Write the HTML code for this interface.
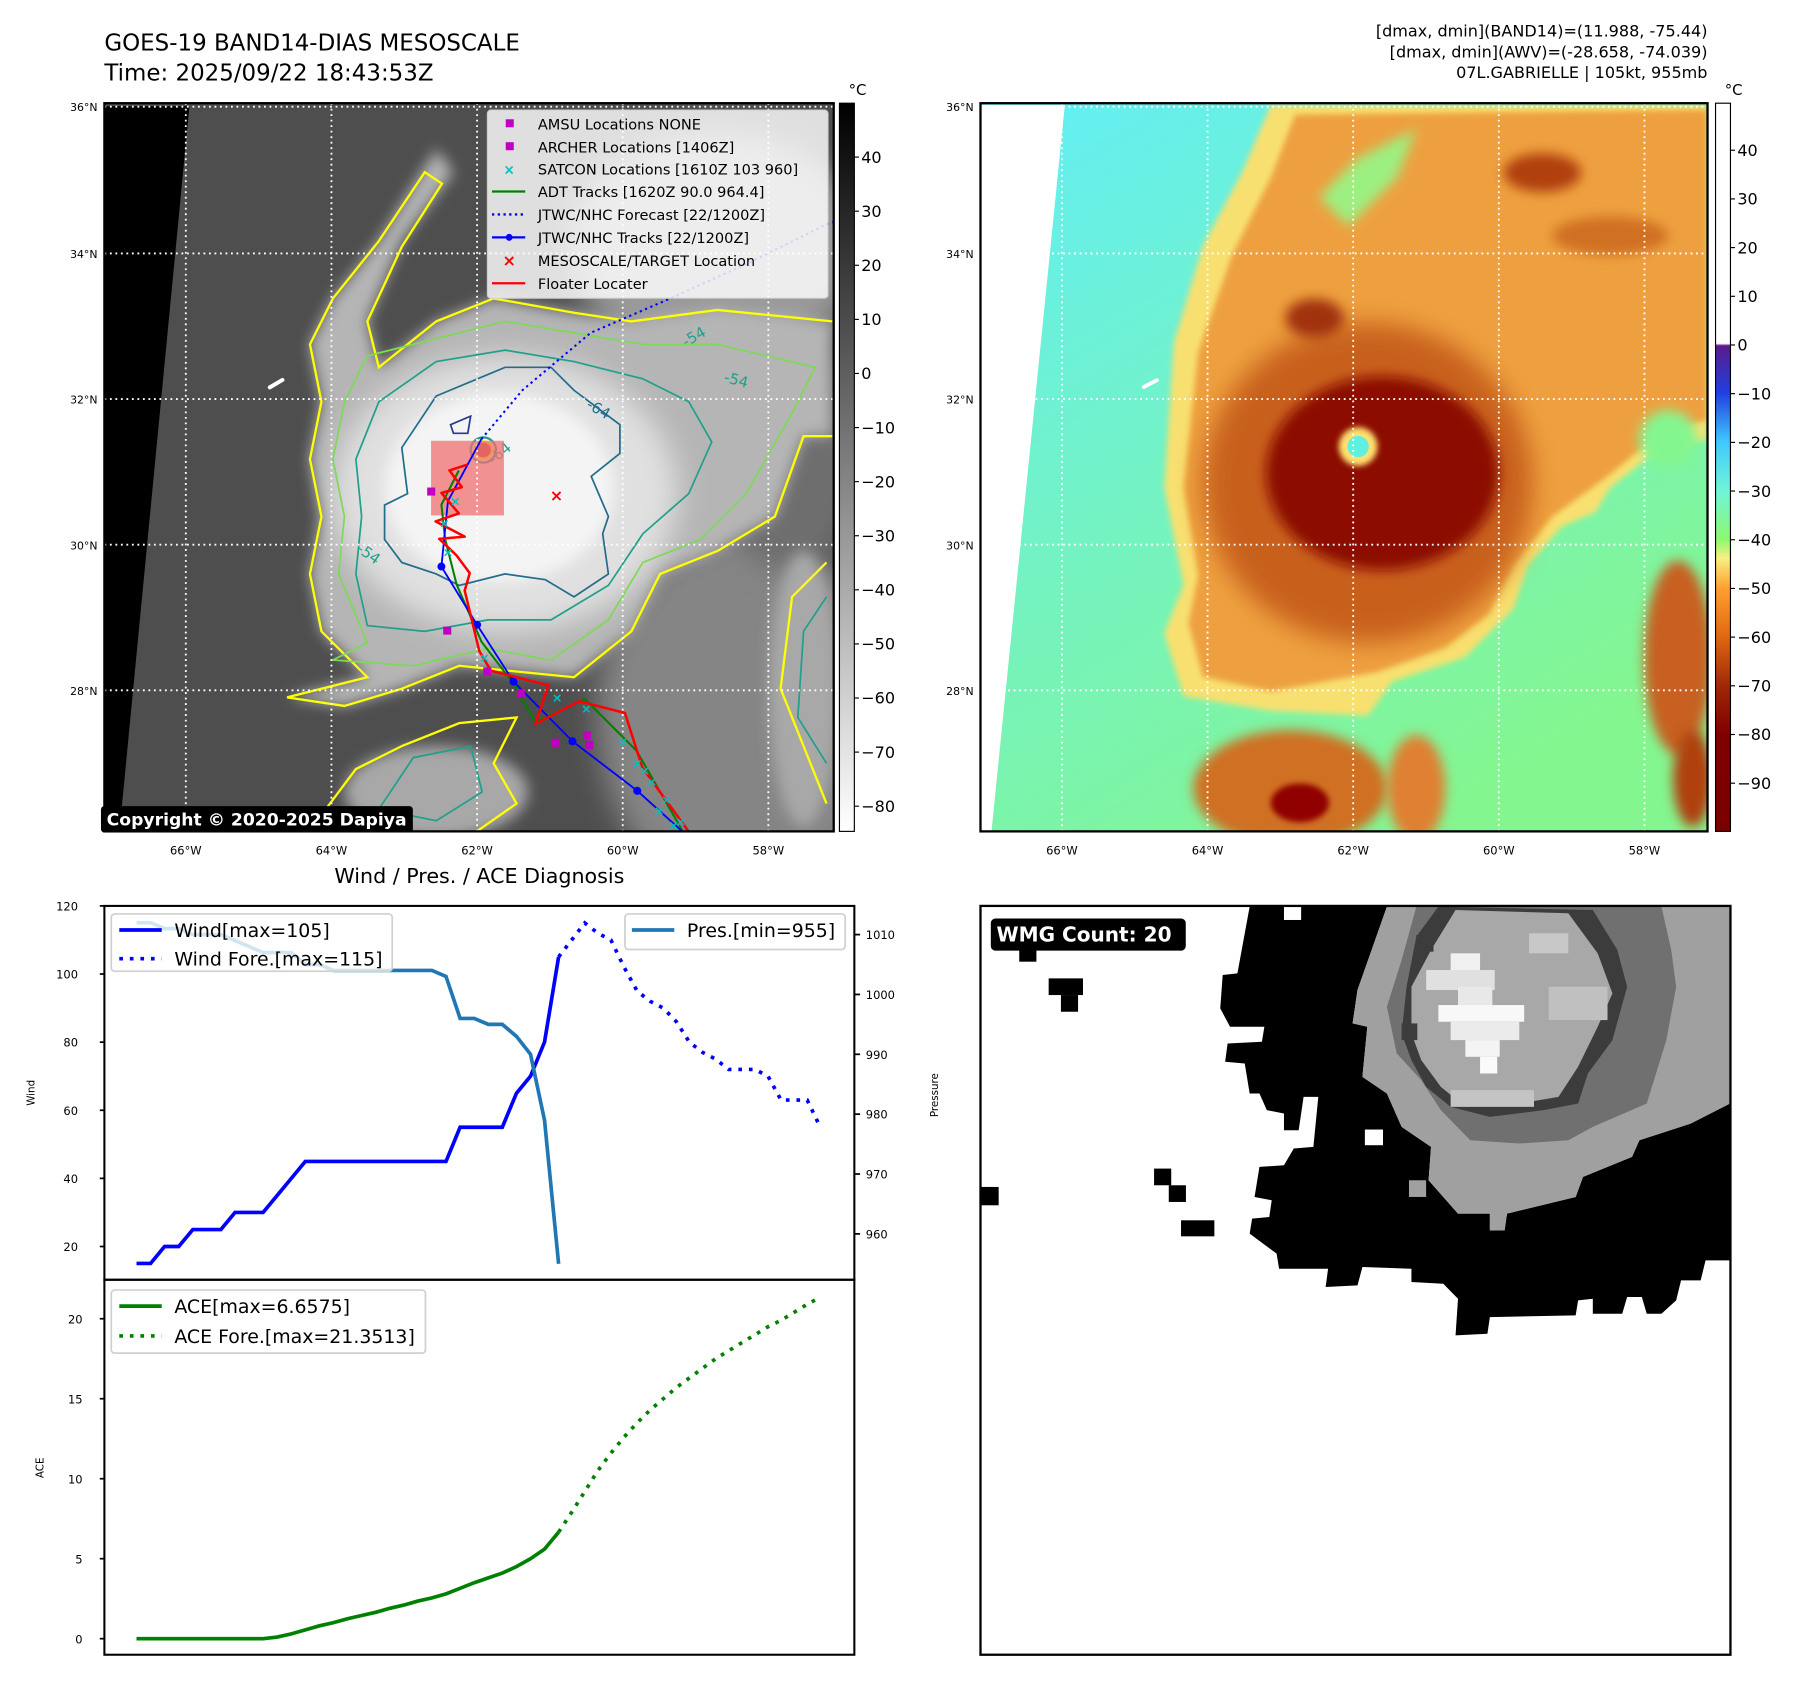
<!DOCTYPE html>
<html><head><meta charset="utf-8"><style>
html,body{margin:0;padding:0;background:#fff;}
svg{display:block;font-family:"DejaVu Sans","Liberation Sans",sans-serif;}
</style></head><body>
<svg id="root" width="1797" height="1692" viewBox="0 0 1567 1475.5">
<defs>
<filter id="b6" x="-20%" y="-20%" width="140%" height="140%"><feGaussianBlur stdDeviation="6"/></filter>
<filter id="b12" x="-30%" y="-30%" width="160%" height="160%"><feGaussianBlur stdDeviation="12"/></filter>
<filter id="b25" x="-40%" y="-40%" width="180%" height="180%"><feGaussianBlur stdDeviation="25"/></filter>
<clipPath id="c1"><rect x="91" y="90" width="636" height="635"/></clipPath>
<clipPath id="c2"><rect x="855" y="90" width="634" height="635"/></clipPath>
<clipPath id="c4"><rect x="855" y="790" width="654" height="653"/></clipPath>
<linearGradient id="gcb1" x1="0" y1="0" x2="0" y2="1"><stop offset="0" stop-color="#000"/><stop offset="1" stop-color="#fff"/></linearGradient>
<linearGradient id="gcb2" x1="0" y1="0" x2="0" y2="1">
<stop offset="0" stop-color="#fff"/><stop offset="0.33" stop-color="#fff"/><stop offset="0.333" stop-color="#5b1a8c"/>
<stop offset="0.398" stop-color="#2040e0"/><stop offset="0.465" stop-color="#40c8ff"/><stop offset="0.532" stop-color="#70f5d8"/>
<stop offset="0.599" stop-color="#8cf870"/><stop offset="0.625" stop-color="#f8f080"/><stop offset="0.666" stop-color="#ffa030"/>
<stop offset="0.733" stop-color="#e06810"/><stop offset="0.8" stop-color="#a02808"/><stop offset="0.866" stop-color="#800000"/><stop offset="1" stop-color="#7a0000"/></linearGradient>
<linearGradient id="gbg2" x1="0" y1="0" x2="0.6" y2="1"><stop offset="0" stop-color="#62eef6"/><stop offset="0.45" stop-color="#72f2c8"/><stop offset="1" stop-color="#84f690"/></linearGradient>
</defs>

<text x="91" y="44" font-size="20">GOES-19 BAND14-DIAS MESOSCALE</text>
<text x="91" y="70" font-size="20">Time: 2025/09/22 18:43:53Z</text>
<g font-size="14" text-anchor="end">
<text x="1489" y="32">[dmax, dmin](BAND14)=(11.988, -75.44)</text>
<text x="1489" y="50">[dmax, dmin](AWV)=(-28.658, -74.039)</text>
<text x="1489" y="68">07L.GABRIELLE | 105kt, 955mb</text>
</g>

<g clip-path="url(#c1)">
<rect x="91" y="90" width="636" height="635" fill="#4e4e4e"/>
<g transform="scale(0.5005)">
<ellipse cx="1300" cy="1250" rx="260" ry="320" fill="#858585" filter="url(#b25)"/>
<ellipse cx="1380" cy="800" rx="120" ry="200" fill="#6e6e6e" filter="url(#b25)"/>
<ellipse cx="1250" cy="430" rx="260" ry="200" fill="#9a9a9a" filter="url(#b25)"/>
<path d="M500,1215 L640,1180 L560,1100 L540,1000 L560,900 L540,800 L560,700 L540,600 L580,520 L660,420 L760,260 L790,300 L700,420 L640,560 L660,640 L760,560 L860,520 L1000,545 L1100,560 L1250,540 L1450,560 L1450,760 L1400,760 L1350,900 L1250,960 L1150,1000 L1100,1100 L1000,1180 L900,1170 L800,1160 L700,1200 L600,1230 Z" fill="#b5b5b5" filter="url(#b12)"/>
<ellipse cx="880" cy="860" rx="300" ry="240" fill="#e0e0e0" filter="url(#b25)"/>
<ellipse cx="870" cy="850" rx="200" ry="165" fill="#f4f4f4" filter="url(#b12)"/>
<ellipse cx="760" cy="1380" rx="160" ry="80" fill="#a8a8a8" filter="url(#b12)"/>
<ellipse cx="1400" cy="1200" rx="60" ry="240" fill="#a8a8a8" filter="url(#b12)"/>
<path d="M180,185 L330,185 L205,1480 L180,1480 Z" fill="#000"/>
<path d="M470,675 L492,662" stroke="#fff" stroke-width="7" stroke-linecap="round"/>
<path d="M500,1215 L640,1180 L560,1100 L540,1000 L560,900 L540,800 L560,700 L540,600 L580,520 L660,420 L740,300 L770,320 L700,430 L640,560 L660,640 L760,560 L860,520 L1000,545 L1100,560 L1250,540 L1450,560" fill="none" stroke="#ffff00" stroke-width="4"/>
<path d="M1450,760 L1400,760 L1350,900 L1250,960 L1150,1000 L1100,1100 L1000,1180 L900,1170 L800,1160 L700,1200 L600,1230 L500,1215" fill="none" stroke="#ffff00" stroke-width="4"/>
<path d="M580,1150 L640,1120 L590,1000 L600,900 L580,800 L600,700 L640,620 L760,590 L880,560 L1000,580 L1120,600 L1250,600 L1420,640 L1380,720 L1300,860 L1220,940 L1120,980 L1060,1080 L960,1150 L850,1130 L720,1160 Z" fill="none" stroke="#7ed957" stroke-width="3"/>
<path d="M640,1090 L620,1000 L630,900 L620,800 L660,700 L760,630 L880,610 L1000,630 L1120,660 L1200,700 L1240,770 L1200,860 L1120,930 L1060,1020 L960,1080 L850,1080 L740,1100 Z" fill="none" stroke="#20a08c" stroke-width="3"/>
<path d="M700,780 L760,690 L880,640 L960,640 L1000,680 L1080,740 L1080,790 L1030,830 L1060,900 L1050,930 L1060,1000 L1000,1040 L950,1010 L880,1000 L800,1020 L760,1000 L700,980 L670,940 L670,880 L710,860 Z" fill="none" stroke="#216d8a" stroke-width="3"/>
<path d="M700,1300 L800,1260 L900,1250 L860,1330 L900,1400 L800,1470 L650,1460 L560,1420 L620,1340 Z" fill="none" stroke="#ffff00" stroke-width="4"/>
<path d="M720,1320 L820,1300 L840,1380 L760,1430 L660,1410 Z" fill="none" stroke="#20a08c" stroke-width="3"/>
<path d="M1440,980 L1380,1040 L1360,1200 L1400,1300 L1440,1400" fill="none" stroke="#ffff00" stroke-width="4"/>
<path d="M1440,1040 L1400,1100 L1390,1250 L1440,1330" fill="none" stroke="#20a08c" stroke-width="3"/>
<path d="M785,740 L820,725 L815,755 L790,755 Z" fill="none" stroke="#2b3a8a" stroke-width="3"/>
<text x="1020" y="710" font-size="26" fill="#216d8a" transform="rotate(30 1020 710)">-64</text>
<text x="1195" y="605" font-size="26" fill="#20a08c" transform="rotate(-30 1195 605)">-54</text>
<text x="1260" y="665" font-size="26" fill="#20a08c" transform="rotate(15 1260 665)">-54</text>
<text x="620" y="960" font-size="26" fill="#20a08c" transform="rotate(35 620 960)">-54</text>
<text x="860" y="810" font-size="26" fill="#20a08c" transform="rotate(-40 860 810)">-64</text>
<circle cx="842" cy="784" r="22" fill="none" stroke="#20a08c" stroke-width="4"/>
<circle cx="842" cy="784" r="15" fill="#c04040" stroke="#ffff00" stroke-width="4"/>
<rect x="751" y="768" width="127" height="130" fill="#f07070" opacity="0.75"/>
</g>
</g>
<g id="grid1"></g>
<g id="tracks" clip-path="url(#c1)"></g>
<g>
<rect x="425" y="96" width="297" height="164" rx="3" fill="#ffffff" fill-opacity="0.82" stroke="#d0d0d0"/>
<g font-size="12.7">
<rect x="441" y="104" width="7" height="7" fill="#c000c0"/><text x="469" y="113">AMSU Locations NONE</text>
<rect x="441" y="124" width="7" height="7" fill="#c000c0"/><text x="469" y="133">ARCHER Locations [1406Z]</text>
<text x="444" y="152" font-size="12" fill="#00c0c0" text-anchor="middle" font-weight="bold">×</text><text x="469" y="152">SATCON Locations [1610Z 103 960]</text>
<line x1="429" y1="167" x2="458" y2="167" stroke="#008000" stroke-width="2"/><text x="469" y="172">ADT Tracks [1620Z 90.0 964.4]</text>
<line x1="429" y1="187" x2="458" y2="187" stroke="#0000ff" stroke-width="2" stroke-dasharray="2,3"/><text x="469" y="192">JTWC/NHC Forecast [22/1200Z]</text>
<line x1="429" y1="207" x2="458" y2="207" stroke="#0000ff" stroke-width="2"/><circle cx="444" cy="207" r="3" fill="#0000ff"/><text x="469" y="212">JTWC/NHC Tracks [22/1200Z]</text>
<text x="444" y="232" font-size="14" fill="#ff0000" text-anchor="middle" font-weight="bold">×</text><text x="469" y="232">MESOSCALE/TARGET Location</text>
<line x1="429" y1="247" x2="458" y2="247" stroke="#ff0000" stroke-width="2"/><text x="469" y="252">Floater Locater</text>
</g></g>
<rect x="91" y="90" width="636" height="635" fill="none" stroke="#000" stroke-width="2"/>
<g><rect x="88" y="703" width="272" height="23" rx="3" fill="#000"/>
<text x="93" y="720" font-size="15" font-weight="bold" fill="#fff">Copyright © 2020-2025 Dapiya</text></g>
<rect x="732" y="90" width="13" height="635" fill="url(#gcb1)" stroke="#000" stroke-width="1"/>
<text x="740" y="83" font-size="13">°C</text>
<g id="cb1"></g>

<g clip-path="url(#c2)">
<rect x="855" y="90" width="634" height="635" fill="url(#gbg2)"/>
<g transform="translate(854.6,87.2) scale(0.4227)">
<path d="M600,10 L1500,10 L1500,700 L1400,720 L1300,800 L1270,850 L1200,880 L1130,960 L1100,1050 L1000,1150 L850,1200 L800,1270 L600,1260 L420,1230 L380,1100 L420,1000 L380,800 L400,500 L460,300 L540,150 Z" fill="#f8e070" filter="url(#b6)"/>
<path d="M650,30 L1500,20 L1500,660 L1400,690 L1290,780 L1180,860 L1100,960 L1050,1060 L960,1130 L820,1180 L600,1220 L460,1190 L430,1080 L450,980 L420,800 L450,520 L520,320 L600,160 Z" fill="#eea040" filter="url(#b6)"/>
<path d="M700,200 L780,120 L900,60 L860,160 L760,260 Z" fill="#9cf080" filter="url(#b12)"/>
<ellipse cx="800" cy="790" rx="340" ry="330" fill="#c8601a" filter="url(#b25)"/>
<ellipse cx="830" cy="770" rx="240" ry="200" fill="#8c0a00" filter="url(#b12)"/>
<ellipse cx="1160" cy="150" rx="80" ry="40" fill="#b04010" filter="url(#b12)"/>
<ellipse cx="1300" cy="280" rx="120" ry="40" fill="#d07020" filter="url(#b12)"/>
<ellipse cx="690" cy="450" rx="60" ry="40" fill="#a03010" filter="url(#b12)"/>
<ellipse cx="1420" cy="700" rx="60" ry="60" fill="#84f690" filter="url(#b12)"/>
<ellipse cx="640" cy="1420" rx="200" ry="120" fill="#d07020" filter="url(#b12)"/>
<ellipse cx="660" cy="1450" rx="60" ry="40" fill="#900000" filter="url(#b6)"/>
<ellipse cx="900" cy="1420" rx="60" ry="110" fill="#e08030" filter="url(#b12)"/>
<ellipse cx="1440" cy="1150" rx="70" ry="200" fill="#c86020" filter="url(#b12)"/>
<ellipse cx="1470" cy="1400" rx="40" ry="100" fill="#b04010" filter="url(#b12)"/>
<circle cx="780" cy="715" r="40" fill="#ffe070" filter="url(#b6)"/>
<circle cx="780" cy="715" r="22" fill="#60f0e0"/>
<path d="M0,10 L175,10 L20,1545 L0,1545 Z" fill="#fff"/>
<path d="M338,592 L365,578" stroke="#fff" stroke-width="8" stroke-linecap="round"/>
</g>
</g>
<g id="grid2"></g>
<rect x="855" y="90" width="634" height="635" fill="none" stroke="#000" stroke-width="2"/>
<rect x="1496" y="90" width="13" height="635" fill="url(#gcb2)" stroke="#000" stroke-width="1"/>
<text x="1504" y="83" font-size="13">°C</text>
<g id="cb2"></g>

<text x="418" y="770" font-size="18" text-anchor="middle">Wind / Pres. / ACE Diagnosis</text>
<g id="chart"></g>
<text transform="translate(30,953) rotate(-90)" font-size="9" text-anchor="middle">Wind</text>
<text transform="translate(818,955) rotate(-90)" font-size="9" text-anchor="middle">Pressure</text>
<text transform="translate(38,1280) rotate(-90)" font-size="9" text-anchor="middle">ACE</text>

<g clip-path="url(#c4)">
<rect x="855" y="790" width="654" height="653" fill="#fff"/>
<g transform="translate(854.6,784.8) scale(0.4275,0.291)">
<path d="M550,20 L830,20 L770,270 L760,370 L790,380 L780,530 L830,580 L860,680 L920,740 L915,840 L945,890 L975,940 L1040,940 L1040,990 L1070,990 L1075,940 L1215,890 L1230,830 L1330,770 L1345,720 L1450,670 L1530,610 L1560,600 L1560,1080 L1480,1080 L1470,1140 L1430,1140 L1420,1200 L1390,1240 L1360,1240 L1350,1190 L1320,1190 L1310,1240 L1250,1240 L1250,1195 L1220,1200 L1215,1245 L1040,1250 L1035,1300 L970,1305 L975,1195 L945,1150 L880,1145 L880,1105 L780,1100 L770,1155 L705,1160 L710,1105 L610,1105 L605,1060 L550,1000 L555,955 L590,950 L595,900 L560,890 L570,800 L620,795 L640,745 L680,740 L690,590 L660,590 L650,690 L620,690 L620,640 L585,630 L570,580 L550,580 L540,490 L500,485 L505,430 L575,425 L580,380 L510,380 L490,325 L495,225 L525,220 Z" fill="#000"/>
<path d="M830,20 L1560,20 L1560,600 L1530,610 L1450,670 L1345,720 L1330,770 L1230,830 L1215,890 L1075,940 L1070,990 L1040,990 L1040,940 L975,940 L945,890 L915,840 L920,740 L860,680 L830,580 L780,530 L790,380 L760,370 L770,270 Z" fill="#a0a0a0"/>
<path d="M890,20 L1390,20 L1410,150 L1420,260 L1400,420 L1360,610 L1250,680 L1200,720 L1100,730 L1000,720 L940,630 L900,540 L850,460 L830,320 L860,180 Z" fill="#707070"/>
<path d="M935,20 L1250,30 L1300,150 L1320,260 L1290,420 L1240,520 L1220,610 L1150,630 L1040,650 L960,620 L910,560 L880,480 L860,400 L870,260 L890,110 Z" fill="#3c3c3c"/>
<path d="M970,30 L1200,40 L1260,160 L1290,280 L1260,380 L1220,500 L1180,590 L1100,610 L990,620 L940,560 L900,480 L880,400 L880,260 L920,150 Z" fill="#a8a8a8"/>
<rect x="960" y="160" width="60" height="60" fill="#f0f0f0"/><rect x="910" y="210" width="140" height="60" fill="#e0e0e0"/>
<rect x="975" y="260" width="70" height="60" fill="#e8e8e8"/><rect x="935" y="315" width="175" height="50" fill="#f8f8f8"/>
<rect x="960" y="365" width="140" height="55" fill="#ebebeb"/><rect x="990" y="420" width="70" height="50" fill="#f4f4f4"/>
<rect x="1020" y="470" width="35" height="50" fill="#fafafa"/><rect x="1120" y="100" width="80" height="60" fill="#c8c8c8"/>
<rect x="1160" y="260" width="120" height="100" fill="#c0c0c0"/><rect x="960" y="570" width="170" height="50" fill="#c4c4c4"/>
<rect x="860" y="370" width="32" height="50" fill="#3c3c3c"/><rect x="890" y="105" width="35" height="50" fill="#3c3c3c"/>
<rect x="620" y="20" width="35" height="40" fill="#fff"/><rect x="785" y="688" width="37" height="47" fill="#fff"/>
<rect x="875" y="840" width="35" height="50" fill="#a0a0a0"/>
<rect x="80" y="150" width="35" height="35" fill="#000"/><rect x="140" y="235" width="70" height="50" fill="#000"/><rect x="165" y="285" width="35" height="50" fill="#000"/>
<rect x="355" y="805" width="35" height="50" fill="#000"/><rect x="385" y="855" width="35" height="50" fill="#000"/>
<rect x="0" y="860" width="38" height="55" fill="#000"/><rect x="410" y="960" width="68" height="48" fill="#000"/>
</g>
</g>
<rect x="855" y="790" width="654" height="653" fill="none" stroke="#000" stroke-width="2"/>
<g><rect x="864" y="801" width="170" height="28" rx="4" fill="#000"/>
<text x="869" y="821" font-size="17.5" font-weight="bold" fill="#fff">WMG Count: 20</text></g>
</svg>

<script>
const windObs = [15,15,20,20,25,25,25,30,30,30,35,40,45,45,45,45,45,45,45,45,45,45,45,55,55,55,55,65,70,80,105];
const presObs = [1012,1012,1011,1011,1010,1010,1010,1009,1008,1007,1007,1007,1005,1005,1004,1004,1004,1004,1004,1004,1004,1004,1003,996,996,995,995,993,990,979,955];
const windFcst = [105,110,115,112,110,102,95,92,90,86,80,77,75,72,72,72,70,63,63,63,55];
const aceObs = [0,0,0,0,0,0,0,0,0,0,0.1,0.3,0.55,0.8,1.0,1.25,1.45,1.65,1.9,2.1,2.35,2.55,2.8,3.15,3.5,3.8,4.1,4.5,5.0,5.6,6.66];
const aceFcst = [6.66,7.9,9.2,10.5,11.6,12.6,13.5,14.3,15.0,15.7,16.3,16.9,17.5,18.0,18.5,19.0,19.5,19.9,20.4,20.9,21.35];
const windTicks = [20,40,60,80,100,120];
const presTicks = [960,970,980,990,1000,1010];
const aceTicks = [0,5,10,15,20];
const fcstStart = 30, fcstStep = 0.93;

const latTicks = [36,34,32,30,28];
const lonTicks = [66,64,62,60,58];
const cbLeftTicks = [40,30,20,10,0,-10,-20,-30,-40,-50,-60,-70,-80];
const cbRightTicks = [40,30,20,10,0,-10,-20,-30,-40,-50,-60,-70,-80,-90];
const floaterLon = [59.10,59.73,59.97,60.60,61.20,61.02,61.81,61.97,62.17,62.10,62.28,62.52,62.17,62.57,62.25,62.49,62.21,62.38,62.13];
const floaterLat = [26.07,26.94,27.69,27.85,27.54,28.07,28.27,28.54,29.37,29.61,29.85,30.08,30.11,30.32,30.43,30.71,30.79,31.02,31.10];
const adtLon = [59.18,59.81,60.52,61.20,61.50,61.94,62.28,62.44,62.49,62.25];
const adtLat = [26.07,27.17,27.88,27.56,28.09,28.67,29.45,30.08,30.55,31.02];
const bestLon = [59.0,59.80,60.69,61.50,62.00,62.49,62.40,61.94];
const bestLat = [25.9,26.62,27.30,28.12,28.90,29.70,30.6,31.45];
const fcstLon = [61.94,61.38,60.44,59.42,58.31,57.2,56.9];
const fcstLat = [31.45,32.12,32.91,33.35,33.85,34.4,34.5];
const archerLon = [62.63,62.41,61.86,61.40,60.93,60.49,60.46];
const archerLat = [30.73,28.82,28.26,27.96,27.28,27.38,27.25];
const satconLon = [59.4,59.6,59.8,60.0,60.5,59.2,59.5,62.4,62.45,62.3,61.9,60.9,59.3,59.7];
const satconLat = [26.5,26.75,27.0,27.3,27.75,26.2,26.35,29.9,30.3,30.6,28.45,27.9,26.15,26.9];
const targetLon = [60.91], targetLat = [30.68];

const svg = document.getElementById('root');
const NS = svg.namespaceURI;
function mk(parent, tag, attrs, txt){const e=document.createElementNS(NS,tag);for(const k in attrs)e.setAttribute(k,attrs[k]);if(txt!==undefined)e.textContent=txt;parent.appendChild(e);return e;}

const xS = i => 119 + i*12.27;
const windY = v => 790 + (120-v)*2.97;
const presY = p => 815 + (1010-p)*5.22;
const aceY = a => 1429 - a*13.95;
const fx = i => fcstStart + i*fcstStep;
const pts = (arr, xf, yf) => arr.map((v,i)=>xf(i).toFixed(1)+','+yf(v).toFixed(1)).join(' ');

const chart = document.getElementById('chart');
let el;
windTicks.forEach(v=>{
  el = mk(chart,'line',{x1:87,x2:91,y1:windY(v),y2:windY(v),stroke:'#000','stroke-width':1.5});
  
  
  el = mk(chart,'text',{x:68,y:windY(v)+4,'font-size':10,'text-anchor':'end'},v);
  
  
});
presTicks.forEach(v=>{
  el = mk(chart,'line',{x1:745,x2:750,y1:presY(v),y2:presY(v),stroke:'#000','stroke-width':1.5});
  
  
  el = mk(chart,'text',{x:755,y:presY(v)+4,'font-size':10},v);
  
  
});
aceTicks.forEach(v=>{
  el = mk(chart,'line',{x1:87,x2:91,y1:aceY(v),y2:aceY(v),stroke:'#000','stroke-width':1.5});
  
  
  el = mk(chart,'text',{x:72,y:aceY(v)+4,'font-size':10,'text-anchor':'end'},v);
  
  
});
el = mk(chart,'polyline',{points:pts(windObs,xS,windY),fill:'none',stroke:'#0000ff','stroke-width':3.2});


el = mk(chart,'polyline',{points:pts(windFcst,i=>xS(fx(i)),windY),fill:'none',stroke:'#0000ff','stroke-width':3.2,'stroke-dasharray':'3.2,6'});


el = mk(chart,'polyline',{points:pts(presObs,xS,presY),fill:'none',stroke:'#1f77b4','stroke-width':3.2});


el = mk(chart,'polyline',{points:pts(aceObs,xS,aceY),fill:'none',stroke:'#008000','stroke-width':3.2});


el = mk(chart,'polyline',{points:pts(aceFcst,i=>xS(fx(i)),aceY),fill:'none',stroke:'#008000','stroke-width':3.2,'stroke-dasharray':'3.2,6'});


el = mk(chart,'rect',{x:91,y:790,width:654,height:326,fill:'none',stroke:'#000','stroke-width':1.8});


el = mk(chart,'rect',{x:91,y:1116,width:654,height:327,fill:'none',stroke:'#000','stroke-width':1.8});


function legendBox(x,y,w,h){return mk(chart,'rect',{x:x,y:y,width:w,height:h,rx:3,fill:'#fff','fill-opacity':0.8,stroke:'#d0d0d0','stroke-width':1.5});}
el = legendBox(97,797,245,50);


mk(chart,'line',{x1:104,x2:141,y1:811,y2:811,stroke:'#0000ff','stroke-width':3.2});
mk(chart,'line',{x1:104,x2:141,y1:836,y2:836,stroke:'#0000ff','stroke-width':3.2,'stroke-dasharray':'3.2,6'});
el = mk(chart,'text',{x:152,y:817,'font-size':16.5},'Wind[max=105]');


el = mk(chart,'text',{x:152,y:842,'font-size':16.5},'Wind Fore.[max=115]');


el = legendBox(545,797,192,31);


mk(chart,'line',{x1:551,x2:588,y1:811,y2:811,stroke:'#1f77b4','stroke-width':3.2});
el = mk(chart,'text',{x:599,y:817,'font-size':16.5},'Pres.[min=955]');


el = legendBox(97,1125,274,55);


mk(chart,'line',{x1:104,x2:141,y1:1139,y2:1139,stroke:'#008000','stroke-width':3.2});
mk(chart,'line',{x1:104,x2:141,y1:1165,y2:1165,stroke:'#008000','stroke-width':3.2,'stroke-dasharray':'3.2,6'});
el = mk(chart,'text',{x:152,y:1145,'font-size':16.5},'ACE[max=6.6575]');


el = mk(chart,'text',{x:152,y:1171,'font-size':16.5},'ACE Fore.[max=21.3513]');



const mapX = (lon, off) => 162 + (66-lon)*63.5 + off;
const mapY = lat => 348 + (32-lat)*63.5;
[[document.getElementById('grid1'),0,91,727],[document.getElementById('grid2'),764,855,1489]].forEach(([g,off,x0,x1])=>{
  latTicks.forEach(lat=>{
    const y = lat===36 ? 93 : mapY(lat);
    el = mk(g,'line',{x1:x0,x2:x1,y1:y,y2:y,stroke:'#fff','stroke-width':1.6,'stroke-dasharray':'1.6,3.2'});
    
    
    el = mk(g,'text',{x:x0-6,y:y+4,'font-size':9.5,'text-anchor':'end'},lat+'°N');
    
    
  });
  lonTicks.forEach(lon=>{
    const x = mapX(lon,off);
    el = mk(g,'line',{x1:x,x2:x,y1:90,y2:725,stroke:'#fff','stroke-width':1.6,'stroke-dasharray':'1.6,3.2'});
    
    
    el = mk(g,'text',{x:x,y:745,'font-size':10,'text-anchor':'middle'},lon+'°W');
    
    
  });
});
const cb1Y = v => 137 + (40-v)*4.717;
const cb2Y = v => 131 + (40-v)*4.246;
const cb1 = document.getElementById('cb1'), cb2 = document.getElementById('cb2');
cbLeftTicks.forEach(v=>{
  mk(cb1,'line',{x1:745,x2:749,y1:cb1Y(v),y2:cb1Y(v),stroke:'#000','stroke-width':1});
  el = mk(cb1,'text',{x:751,y:cb1Y(v)+5,'font-size':14},String(v).replace('-','\u2212'));
  
  
});
cbRightTicks.forEach(v=>{
  mk(cb2,'line',{x1:1509,x2:1513,y1:cb2Y(v),y2:cb2Y(v),stroke:'#000','stroke-width':1});
  el = mk(cb2,'text',{x:1515,y:cb2Y(v)+5,'font-size':14},String(v).replace('-','\u2212'));
  
  
});
const tr = document.getElementById('tracks');
const lp = (lons,lats)=>lons.map((l,i)=>mapX(l,0).toFixed(1)+','+mapY(lats[i]).toFixed(1)).join(' ');
el = mk(tr,'polyline',{points:lp(adtLon,adtLat),fill:'none',stroke:'#008000','stroke-width':1.8});


el = mk(tr,'polyline',{points:lp(bestLon,bestLat),fill:'none',stroke:'#0000ff','stroke-width':1.6});


bestLon.forEach((l,i)=>{ if(i>0 && i<6){
  el = mk(tr,'circle',{cx:mapX(l,0),cy:mapY(bestLat[i]),r:3.5,fill:'#0000ff'});
  
  
}});
el = mk(tr,'polyline',{points:lp(fcstLon,fcstLat),fill:'none',stroke:'#0000ff','stroke-width':1.8,'stroke-dasharray':'2,3'});


el = mk(tr,'polyline',{points:lp(floaterLon,floaterLat),fill:'none',stroke:'#ff0000','stroke-width':2.2,'stroke-linejoin':'round'});


satconLon.forEach((l,i)=>{
  el = mk(tr,'text',{x:mapX(l,0),y:mapY(satconLat[i])+4,'font-size':11,'font-weight':'bold',fill:'#00c0c0','text-anchor':'middle'},'×');
  
  
});
archerLon.forEach((l,i)=>{
  el = mk(tr,'rect',{x:mapX(l,0)-3.5,y:mapY(archerLat[i])-3.5,width:7,height:7,fill:'#c000c0'});
  
  
});
targetLon.forEach((l,i)=>{
  el = mk(tr,'text',{x:mapX(l,0),y:mapY(targetLat[i])+5,'font-size':14,'font-weight':'bold',fill:'#ff0000','text-anchor':'middle'},'×');
  
  
});
</script>
</body></html>
